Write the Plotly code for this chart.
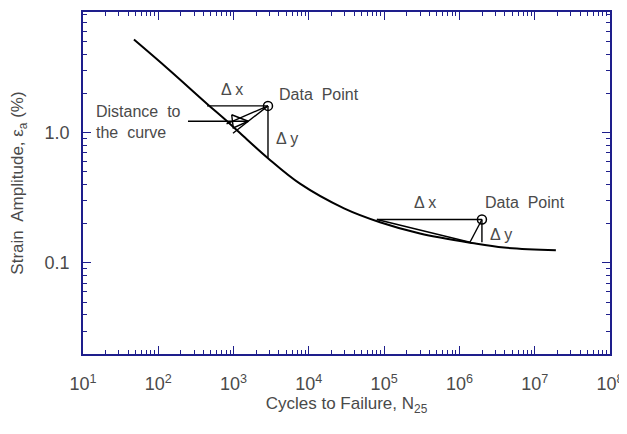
import math

import plotly.graph_objects as go

# S-N curve (cycles, strain amplitude %)
CURVE_N = [47.5, 135, 450, 746, 1217, 2864, 7620, 29300, 88100, 299000, 1.47e6, 3.91e6, 1.91e7]
CURVE_EPS = [5.16, 3.07, 1.65, 1.28, 0.99, 0.635, 0.405, 0.262, 0.205, 0.168, 0.142, 0.131, 0.125]

# the two data points and their construction lines
PT_N = [2865, 1.99e6]
PT_EPS = [1.60, 0.215]
DX_END_N = [444, 80000]        # left end of the horizontal (delta x) line
DY_END_EPS = [0.64, 0.144]     # bottom end of the vertical (delta y) line
WEDGE1_N = [807, 982]
WEDGE1_EPS = [1.164, 0.988]
FOOT2 = (1.38e6, 0.144)

ARROW_N = [248, 1567]
ARROW_EPS = 1.22
HEAD_N = [944, 1567, 991, 944]
HEAD_EPS = [1.368, 1.22, 1.085, 1.368]

X_TICKS = [10 ** k for k in range(1, 9)]
X_TICKTEXT = [f"10<sup>{k}</sup>" for k in range(1, 9)]
Y_TICKS = [0.1, 1.0]
Y_TICKTEXT = ["0.1", "1.0"]

X_TITLE = "Cycles to Failure, N<sub>25</sub>"
Y_TITLE = "Strain  Amplitude, ε<sub>a</sub> (%)"

BLUE = "#1e1e8c"
GREY = "#4a4a4a"
FONT = "Arial, Liberation Sans, sans-serif"
X_RANGE = [1, 8]
Y_RANGE = [math.log10(0.02), math.log10(8.4)]


def seg(fig, xs, ys, w=1.4):
    fig.add_trace(go.Scatter(x=xs, y=ys, mode="lines", line=dict(color="black", width=w),
                             showlegend=False, hoverinfo="skip"))


def minor_vals(lo, hi):
    return [m * 10 ** d for d in range(lo, hi) for m in range(2, 10)]


def main():
    fig = go.Figure()
    fig.add_trace(go.Scatter(x=CURVE_N, y=CURVE_EPS, mode="lines", line=dict(color="black", width=2),
                             line_shape="spline", showlegend=False))

    # construction lines for both points
    for i in range(2):
        seg(fig, [DX_END_N[i], PT_N[i]], [PT_EPS[i], PT_EPS[i]])
        seg(fig, [PT_N[i], PT_N[i]], [PT_EPS[i], DY_END_EPS[i]])
    for n, e in zip(WEDGE1_N, WEDGE1_EPS):
        seg(fig, [PT_N[0], n], [PT_EPS[0], e])
    seg(fig, [PT_N[1], FOOT2[0]], [PT_EPS[1], FOOT2[1]])
    seg(fig, [DX_END_N[1], FOOT2[0]], [PT_EPS[1], FOOT2[1]])

    # "distance to the curve" arrow
    seg(fig, ARROW_N, [ARROW_EPS, ARROW_EPS])
    seg(fig, HEAD_N, HEAD_EPS)

    fig.add_trace(go.Scatter(x=PT_N, y=PT_EPS, mode="markers",
                             marker=dict(symbol="circle-open", size=9, color="black", line=dict(width=1.5)),
                             showlegend=False))

    # invisible trace carrying the minor-tick overlay axes
    fig.add_trace(go.Scatter(x=[PT_N[0]], y=[PT_EPS[0]], xaxis="x2", yaxis="y2", mode="markers",
                             marker=dict(opacity=0), showlegend=False, hoverinfo="skip"))

    txt = dict(font=dict(family=FONT, size=16, color=GREY), showarrow=False, xanchor="left")
    fig.add_annotation(x=3.58, y=0.295, text="Data  Point", **txt)
    fig.add_annotation(x=6.31, y=-0.538, text="Data  Point", **txt)
    fig.add_annotation(x=2.81, y=0.333, text="Δ x", **txt)
    fig.add_annotation(x=5.37, y=-0.538, text="Δ x", **txt)
    fig.add_annotation(x=3.54, y=-0.045, text="Δ y", **txt)
    fig.add_annotation(x=6.38, y=-0.78, text="Δ y", **txt)
    fig.add_annotation(x=1.15, y=math.log10(1.2), text="Distance  to<br>the  curve", align="left", **txt)

    axis = dict(type="log", showline=True, linecolor=BLUE, linewidth=1.5, mirror="ticks",
                ticks="inside", ticklen=8, tickcolor=BLUE, tickwidth=1.2, showgrid=False, zeroline=False,
                tickmode="array", tickfont=dict(family=FONT, size=18, color=GREY))
    fig.update_layout(
        xaxis=dict(axis, range=X_RANGE, tickvals=X_TICKS, ticktext=X_TICKTEXT, ticklabelstandoff=13,
                   title=dict(text=X_TITLE, font=dict(family=FONT, size=17, color=GREY), standoff=4)),
        yaxis=dict(axis, range=Y_RANGE, tickvals=Y_TICKS, ticktext=Y_TICKTEXT, ticklabelstandoff=8,
                   title=dict(text=Y_TITLE, font=dict(family=FONT, size=17, color=GREY), standoff=18)),
        xaxis2=dict(type="log", overlaying="x", range=X_RANGE, tickmode="array", tickvals=minor_vals(1, 8),
                    showticklabels=False, ticks="inside", ticklen=4, tickcolor=BLUE, tickwidth=1,
                    showline=True, linecolor=BLUE, linewidth=1.5, mirror="ticks", showgrid=False,
                    zeroline=False),
        yaxis2=dict(type="log", overlaying="y", range=Y_RANGE, tickmode="array", tickvals=minor_vals(-2, 1),
                    showticklabels=False, ticks="inside", ticklen=4, tickcolor=BLUE, tickwidth=1,
                    showline=True, linecolor=BLUE, linewidth=1.5, mirror="ticks", showgrid=False,
                    zeroline=False),
    )

    # page body has an 8px margin, so the figure is drawn 8px smaller and offset
    fig.update_layout(width=619, height=426, plot_bgcolor="white", paper_bgcolor="white",
                      margin=dict(l=75, r=17, t=2, b=80), font=dict(family=FONT, color=GREY),
                      showlegend=False)
    fig.write_html("out.html")


if __name__ == "__main__":
    main()
